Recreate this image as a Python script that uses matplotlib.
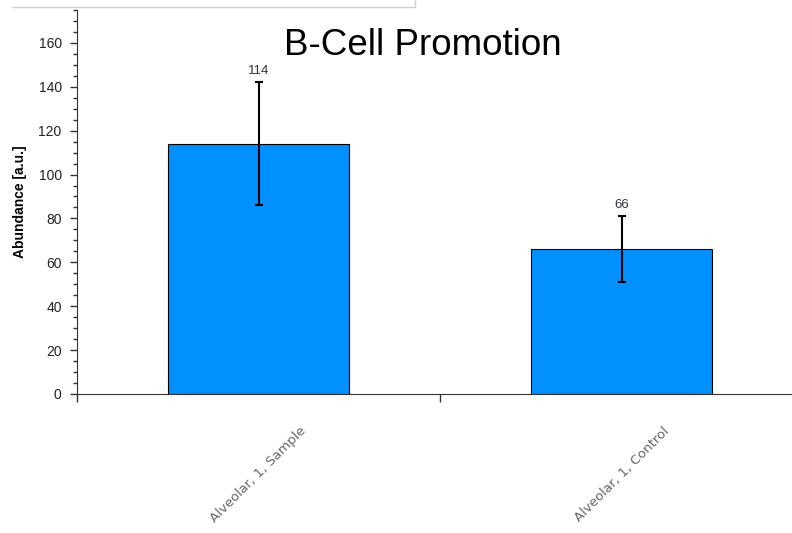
import matplotlib.pyplot as plt
from matplotlib.lines import Line2D
from matplotlib.ticker import MultipleLocator

plt.rcParams['font.family'] = ['Liberation Sans', 'DejaVu Sans']

# -----------------------------------
# Data
# -----------------------------------
samples = ["Alveolar, 1, Sample", "Alveolar, 1, Control"]
abundance = [114, 66]
errors = [28, 15]

fig = plt.figure(figsize=(7.92, 5.33), dpi=100)
ax = fig.add_axes([0.0972, 0.2608, 0.917, 0.7205])

x = list(range(len(samples)))
ax.bar(x, abundance, width=0.5, color='#0090FF', edgecolor='black', linewidth=0.8,
       yerr=errors, error_kw=dict(ecolor='black', elinewidth=1.5, capsize=3, capthick=1.5))

for i, v in enumerate(abundance):
    ax.annotate(str(v), (i, v + errors[i]), xytext=(0, 4), textcoords='offset points',
                ha='center', va='bottom', fontsize=9.5, color='#333344')

for i, name in enumerate(samples):
    ax.text(i, -0.211, name, transform=ax.get_xaxis_transform(), rotation=45,
            ha='center', va='center', fontsize=9.5, color='#666666', family='DejaVu Sans')

ax.set_xlim(-0.5, 1.5)
ax.set_ylim(0, 175)
ax.set_xticks([-0.5, 0.5])
ax.set_xticklabels([])
ax.yaxis.set_major_locator(MultipleLocator(20))
ax.yaxis.set_minor_locator(MultipleLocator(5))
ax.tick_params(axis='y', which='major', length=5, width=1, labelsize=10, colors='#333333', pad=6)
ax.tick_params(axis='y', which='minor', length=3, width=1, colors='#333333')
ax.tick_params(axis='x', length=6, width=1, colors='#333333')
for lbl in ax.get_yticklabels():
    lbl.set_color('#222222')
ax.spines['top'].set_visible(False)
ax.spines['right'].set_visible(False)
ax.spines['left'].set_color('#333333')
ax.spines['bottom'].set_color('#333333')
ax.set_ylabel("Abundance [a.u.]", fontsize=10, fontweight='bold')
ax.yaxis.set_label_coords(-0.069, 0.5)

fig.text(0.534, 0.897, "B-Cell Promotion", ha='center', va='baseline', fontsize=26.5)

# faint box edge at the top left
fig.add_artist(Line2D([12/792, 415/792], [1 - 7/533, 1 - 7/533], color='#d0d0d0', lw=1))
fig.add_artist(Line2D([415/792, 415/792], [1.0, 1 - 7/533], color='#d0d0d0', lw=1))

fig.savefig("out.png", dpi=100)
